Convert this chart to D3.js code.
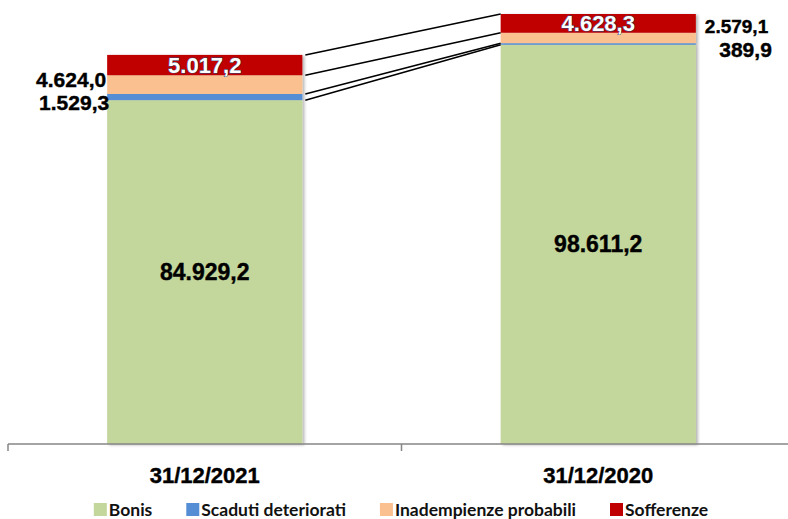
<!DOCTYPE html>
<html>
<head>
<meta charset="utf-8">
<script src="https://cdn.jsdelivr.net/npm/d3@7"></script>
<style>
  body { margin: 0; background: #fff; }
  svg { display: block; }
</style>
</head>
<body>
<div id="chart"></div>
<script>
var svgWidth = 788;
var svgHeight = 519;

// data
var categories = ["31/12/2021", "31/12/2020"];
var seriesNames = ["Bonis", "Scaduti deteriorati", "Inadempienze probabili", "Sofferenze"];
var bonis = [84929.2, 98611.2];
var scaduti = [1529.3, 389.9];
var inadempienze = [4624.0, 2579.1];
var sofferenze = [5017.2, 4628.3];
var colors = ["#c3d69b", "#558ed5", "#fac090", "#c00000"];

var rows = categories.map(function(c, i) {
  return {
    cat: c,
    "Bonis": bonis[i],
    "Scaduti deteriorati": scaduti[i],
    "Inadempienze probabili": inadempienze[i],
    "Sofferenze": sofferenze[i]
  };
});

var stacked = d3.stack().keys(seriesNames)(rows);

var fmt = function(v) {
  var s = d3.format(",.1f")(v);
  return s.replace(/,/g, "#").replace(".", ",").replace(/#/g, ".");
};

var svg = d3.select("#chart")
  .append("svg")
  .attr("width", svgWidth)
  .attr("height", svgHeight);

var defs = svg.append("defs");
var shadow = defs.append("filter").attr("id", "shadow")
  .attr("x", "-5%").attr("y", "-5%").attr("width", "115%").attr("height", "115%");
shadow.append("feDropShadow")
  .attr("dx", 2).attr("dy", 1).attr("stdDeviation", 1.5)
  .attr("flood-color", "#000").attr("flood-opacity", 0.3);

var axisY = 444;
var x = d3.scaleBand().domain(categories).range([8, 795]).padding(0);
var barW = x.bandwidth() * 0.496;
var barX = function(c) { return x(c) + (x.bandwidth() - barW) / 2; };

var totalMax = d3.max(rows, function(r) {
  return d3.sum(seriesNames, function(k) { return r[k]; });
});
var y = d3.scaleLinear().domain([0, totalMax]).range([axisY, 14]);

// bars
var barGroups = svg.append("g").attr("filter", "url(#shadow)");
stacked.forEach(function(layer, li) {
  barGroups.selectAll(null)
    .data(layer)
    .enter()
    .append("rect")
    .attr("x", function(d) { return barX(d.data.cat); })
    .attr("y", function(d) { return y(d[1]); })
    .attr("width", barW)
    .attr("height", function(d) { return y(d[0]) - y(d[1]); })
    .attr("fill", colors[li]);
});

// connector lines between the two bars
var x1 = barX(categories[0]) + barW + 3;
var x2 = barX(categories[1]);
var levels = [];
stacked.forEach(function(layer, li) {
  if (li > 0) levels.push([layer[0][0], layer[1][0]]);
});
levels.push([stacked[3][0][1], stacked[3][1][1]]);
svg.append("g").selectAll("line")
  .data(levels)
  .enter()
  .append("line")
  .attr("x1", x1)
  .attr("y1", function(d) { return y(d[0]); })
  .attr("x2", x2)
  .attr("y2", function(d) { return y(d[1]); })
  .attr("stroke", "#000")
  .attr("stroke-width", 1.6);

// axis
var axis = svg.append("g").attr("transform", "translate(0," + axisY + ")")
  .call(d3.axisBottom(x).tickSize(0).tickFormat(""));
axis.select(".domain").remove();
axis.append("line").attr("x1", 8).attr("x2", 795).attr("y1", 0).attr("y2", 0)
  .attr("stroke", "#868686").attr("stroke-width", 1.5);
axis.selectAll(null).data([8, x(categories[1])]).enter().append("line")
  .attr("x1", function(d) { return d; }).attr("x2", function(d) { return d; })
  .attr("y1", 0).attr("y2", 7)
  .attr("stroke", "#868686").attr("stroke-width", 1.5);

svg.append("g").selectAll("text")
  .data(categories)
  .enter()
  .append("text")
  .attr("x", function(c) { return x(c) + x.bandwidth() / 2; })
  .attr("y", 483)
  .attr("text-anchor", "middle")
  .attr("stroke", "#000").attr("stroke-width", 0.4)
  .style("font-family", "Liberation Sans, Arial, sans-serif")
  .style("font-weight", "bold")
  .style("font-size", "22px")
  .text(function(c) { return c; });

// labels
var labelFont = "Liberation Sans, Arial, sans-serif";
function mid(d) { return (y(d[0]) + y(d[1])) / 2; }

// Bonis: centered in bar
svg.append("g").selectAll("text")
  .data(stacked[0])
  .enter()
  .append("text")
  .attr("x", function(d) { return barX(d.data.cat) + barW / 2; })
  .attr("y", function(d) { return mid(d) + 8; })
  .attr("text-anchor", "middle")
  .attr("stroke", "#000").attr("stroke-width", 0.4)
  .style("font-family", labelFont).style("font-weight", "bold").style("font-size", "23px")
  .text(function(d) { return fmt(d.data["Bonis"]); });

// Sofferenze: white centered in red segment
svg.append("g").selectAll("text")
  .data(stacked[3])
  .enter()
  .append("text")
  .attr("x", function(d) { return barX(d.data.cat) + barW / 2; })
  .attr("y", function(d) { return mid(d) + 8; })
  .attr("text-anchor", "middle")
  .attr("fill", "#fff")
  .attr("stroke", "#2a4a78").attr("stroke-width", 0.9)
  .attr("paint-order", "stroke")
  .style("font-family", labelFont).style("font-weight", "bold").style("font-size", "22px")
  .text(function(d) { return fmt(d.data["Sofferenze"]); });

// side labels for the thin segments
var side = svg.append("g")
  .attr("stroke", "#000").attr("stroke-width", 0.4)
  .style("font-family", labelFont).style("font-weight", "bold");
// 2021: left of the bar
side.append("text")
  .attr("x", barX(categories[0]) - 1).attr("y", mid(stacked[2][0]) + 2)
  .attr("text-anchor", "end").style("font-size", "21px")
  .text(fmt(inadempienze[0]));
side.append("text")
  .attr("x", barX(categories[0]) + 2).attr("y", mid(stacked[1][0]) + 13)
  .attr("text-anchor", "end").style("font-size", "21px")
  .text(fmt(scaduti[0]));
// 2020: right of the bar
side.append("text")
  .attr("x", barX(categories[1]) + barW + 9).attr("y", mid(stacked[2][1]) - 5)
  .attr("text-anchor", "start").style("font-size", "19px")
  .text(fmt(inadempienze[1]));
side.append("text")
  .attr("x", barX(categories[1]) + barW + 76).attr("y", mid(stacked[1][1]) + 13)
  .attr("text-anchor", "end").style("font-size", "21px")
  .text(fmt(scaduti[1]));

// legend
var legendGap = 34;
var legend = svg.append("g").attr("transform", "translate(0,0)");
var lx = 0;
seriesNames.forEach(function(name, i) {
  var item = legend.append("g").attr("transform", "translate(" + lx + ",0)");
  item.append("rect").attr("x", 0).attr("y", 503).attr("width", 13).attr("height", 13)
    .attr("fill", colors[i]);
  var t = item.append("text").attr("x", 15).attr("y", 516)
    .style("font-family", "Lato, sans-serif").style("font-weight", "bold")
    .style("font-size", "17.5px").attr("fill", "#111")
    .text(name);
  lx += 15 + t.node().getComputedTextLength() + legendGap;
});
var legendW = lx - legendGap;
legend.attr("transform", "translate(" + (401 - legendW / 2) + ",0)");
</script>
</body>
</html>
